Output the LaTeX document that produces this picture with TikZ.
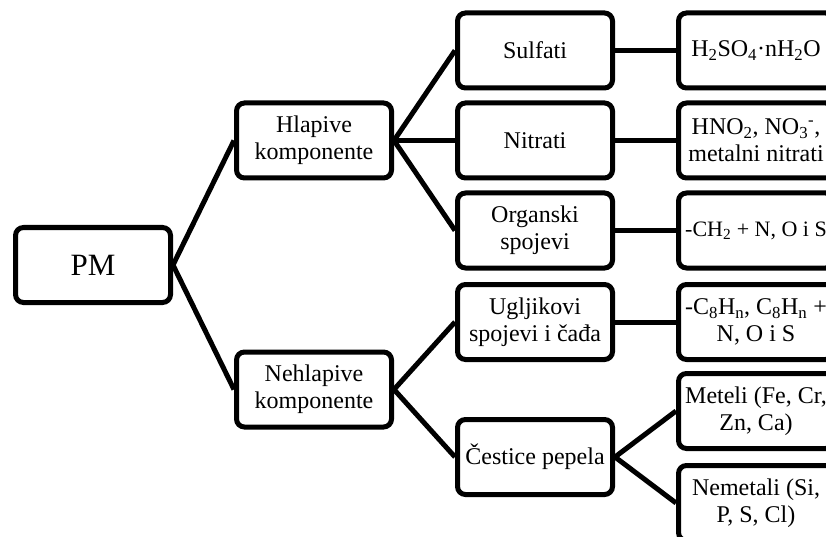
\documentclass[tikz,border=0pt]{standalone}
\usepackage{fontspec}
\setmainfont{Liberation Serif}
\begin{document}
\begin{tikzpicture}[x=1pt, y=1pt,
				grow'=right, level distance=221pt,
				box/.style={draw=black, line width=5pt, rounded corners=8pt, minimum width=155pt, minimum height=75pt, inner sep=0pt, align=center, font=\fontsize{24}{27}\selectfont},
				edge from parent/.style={draw=black, line width=5pt},
				edge from parent path={(\tikzparentnode.east) -- (\tikzchildnode.west)}
				]
			\useasboundingbox (0,0) rectangle (826,-537);
			\clip (0,0) rectangle (826,-537);
			\node [box, font=\fontsize{31}{36}\selectfont] (pm) at (93,-265) {PM}
				[sibling distance=249pt]
				child {node [box] (hlap) {Hlapive\\komponente}
					[sibling distance=90pt]
					child {node [box] (sulf) {Sulfati}
						child {node [box] (h2so4) {H\textsubscript{2}SO\textsubscript{4}·nH\textsubscript{2}O}}}
					child {node [box] (nitr) {Nitrati}
						child {node [box] (hno2) {HNO\textsubscript{2}, NO\textsubscript{3}\textsuperscript{-},\\metalni nitrati}}}
					child {node [box] (org) {Organski\\spojevi}
						child {node [box, font=\fontsize{22}{27}\selectfont] (ch2) {-CH\textsubscript{2} + N, O i S}}}
				}
				child {node [box] (nehl) {Nehlapive\\komponente}
					[sibling distance=135pt]
					child {node [box] (uglj) {Ugljikovi\\spojevi i čađa}
						child {node [box] (c8hn) {-C\textsubscript{8}H\textsubscript{n}, C\textsubscript{8}H\textsubscript{n} +\\N, O i S}}}
					child {node [box] (cest) {Čestice pepela}
						[sibling distance=92pt]
						child {node [box] (met) {Meteli (Fe, Cr,\\Zn, Ca)}}
						child {node [box] (nemet) {Nemetali (Si,\\P, S, Cl)}}
					}
				};
			\end{tikzpicture}
\end{document}
